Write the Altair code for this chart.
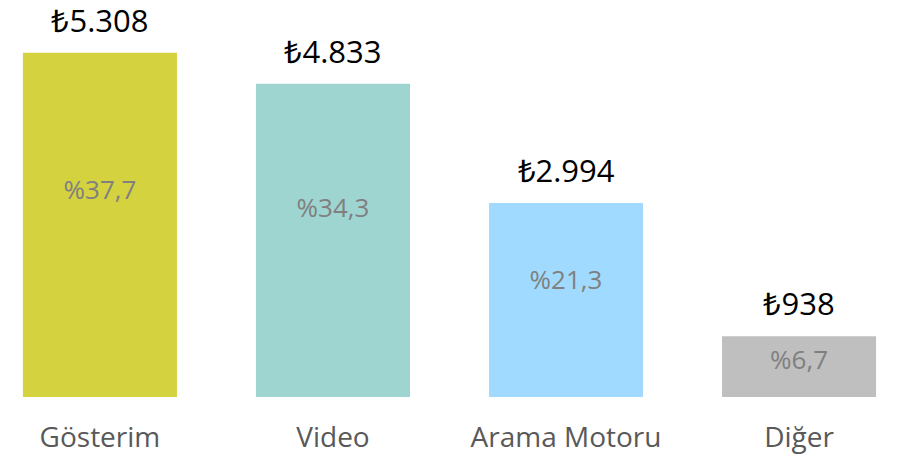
import altair as alt
import pandas as pd

categories = ["Gösterim", "Video", "Arama Motoru", "Diğer"]
values = [5308, 4833, 2994, 938]
value_labels = ["₺5.308", "₺4.833", "₺2.994", "₺938"]
pct_labels = ["%37,7", "%34,3", "%21,3", "%6,7"]
colors = ["#D5D240", "#9FD5D1", "#A0DBFF", "#BFBFBF"]

df = pd.DataFrame({
    "cat": categories,
    "value": values,
    "vlabel": value_labels,
    "plabel": pct_labels,
})

FONT = "Open Sans"
H = 389
YMAX = 6000

x = alt.X("cat:N", sort=categories, axis=None,
          scale=alt.Scale(paddingInner=0.339, paddingOuter=0.064))
yscale = alt.Scale(domain=[0, YMAX], nice=False)
y = alt.Y("value:Q", axis=None, scale=yscale)

base = alt.Chart(df)

bars = base.mark_bar().encode(
    x=x, y=y,
    color=alt.Color("cat:N", scale=alt.Scale(domain=categories, range=colors), legend=None),
)

vtext = base.mark_text(font=FONT, fontSize=31, color="#000000", baseline="alphabetic", dy=-21).encode(
    x=x, y=y, text="vlabel:N"
)

ptext = base.transform_calculate(py="datum.value * 0.6").mark_text(
    font=FONT, fontSize=26, color="#808080", baseline="middle"
).encode(
    x=x, y=alt.Y("py:Q", axis=None, scale=yscale), text="plabel:N"
)

ctext = base.mark_text(font=FONT, fontSize=28, color="#595959", baseline="alphabetic").encode(
    x=x, y=alt.value(H + 50), text="cat:N"
)

chart = alt.layer(bars, vtext, ptext, ctext).properties(
    width=883, height=H,
    padding={"left": 0, "top": 0, "right": 0, "bottom": 58},
    autosize=alt.AutoSizeParams(type="none"),
).configure_view(stroke=None)

chart.save("out.html", embed_options={"renderer": "svg", "actions": False})
